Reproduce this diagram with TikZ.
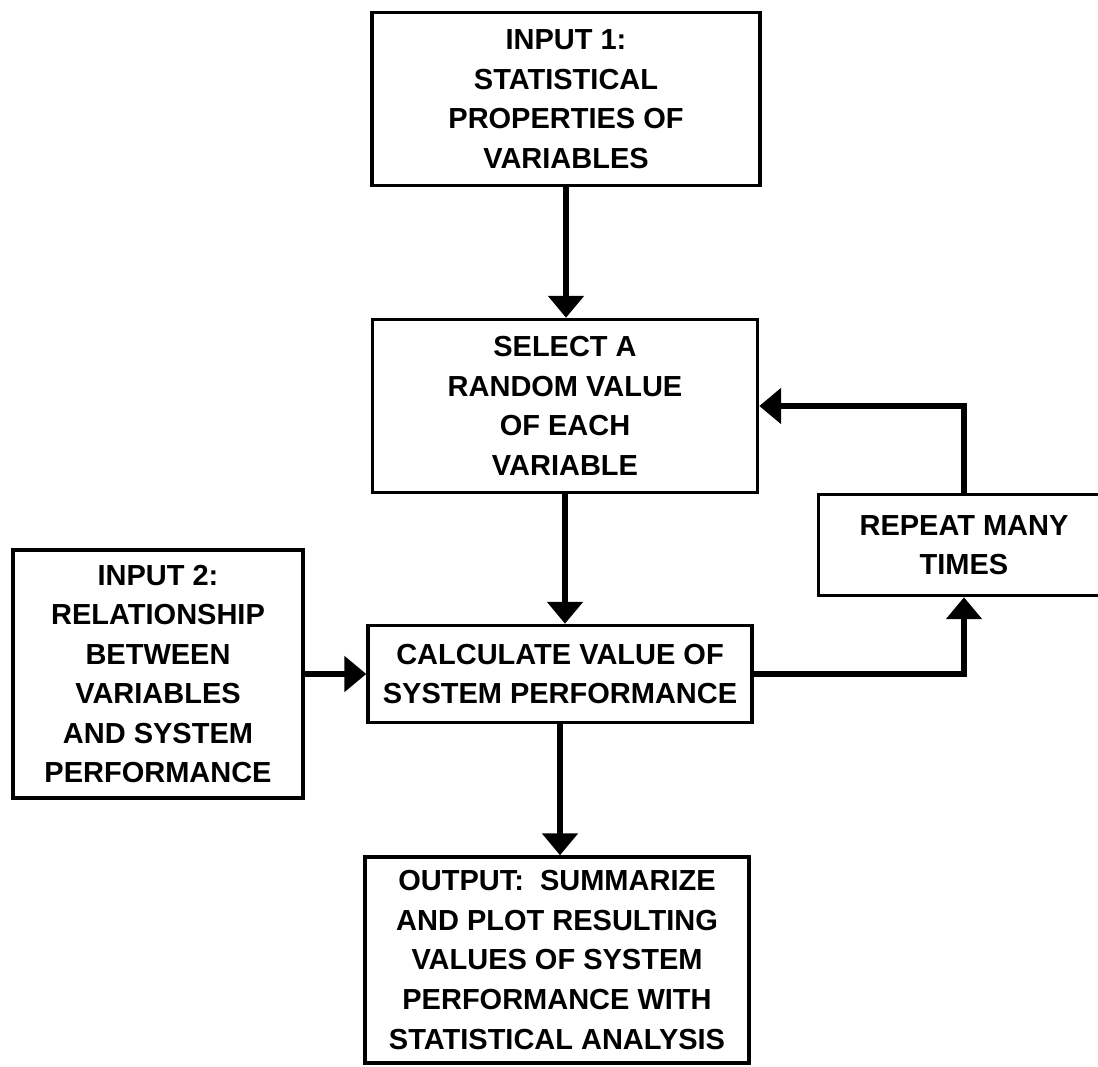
\documentclass[tikz,border=0pt]{standalone}
\usepackage{fontspec}
\setmainfont{Liberation Sans}
\usetikzlibrary{arrows.meta}

\begin{document}
\begin{tikzpicture}[x=0.02cm, y=-0.02cm,
    box/.style={draw, line width=2pt, align=center, inner sep=0pt,
        font=\fontsize{16.5}{22.5}\selectfont\bfseries},
    flow/.style={line width=3.4pt,
        -{Triangle[length=0.44cm, width=0.7cm]}}]
    \useasboundingbox (0,0) rectangle (1098,1067);

    \node[box, minimum width=7.76cm, minimum height=3.46cm] (in1) at (566,99)
        {INPUT 1:\\ STATISTICAL\\ PROPERTIES OF\\ VARIABLES};
    \node[box, minimum width=7.70cm, minimum height=3.46cm] (sel) at (565,406)
        {SELECT A\\ RANDOM VALUE\\ OF EACH\\ VARIABLE};
    \node[box, minimum width=5.82cm, minimum height=2.02cm] (rep) at (964,545)
        {REPEAT MANY\\ TIMES};
    \node[box, minimum width=5.80cm, minimum height=4.96cm] (in2) at (158,674)
        {INPUT 2:\\ RELATIONSHIP\\ BETWEEN\\ VARIABLES\\ AND SYSTEM\\ PERFORMANCE};
    \node[box, minimum width=7.68cm, minimum height=1.94cm] (calc) at (560,674)
        {CALCULATE VALUE OF\\ SYSTEM PERFORMANCE};
    \node[box, minimum width=7.68cm, minimum height=4.12cm] (out) at (557,960)
        {OUTPUT:\ \ SUMMARIZE\\ AND PLOT RESULTING\\ VALUES OF SYSTEM\\
         PERFORMANCE WITH\\ STATISTICAL ANALYSIS};

    \draw[flow] (in1.south) -- (in1.south |- sel.north);
    \draw[flow] (sel.south) -- (sel.south |- calc.north);
    \draw[flow] (calc.south) -- (calc.south |- out.north);
    \draw[flow] (in2.east) -- (calc.west);
    \draw[flow] (calc.east) -| (rep.south);
    \draw[flow] (rep.north) |- (sel.east);
\end{tikzpicture}
\end{document}
